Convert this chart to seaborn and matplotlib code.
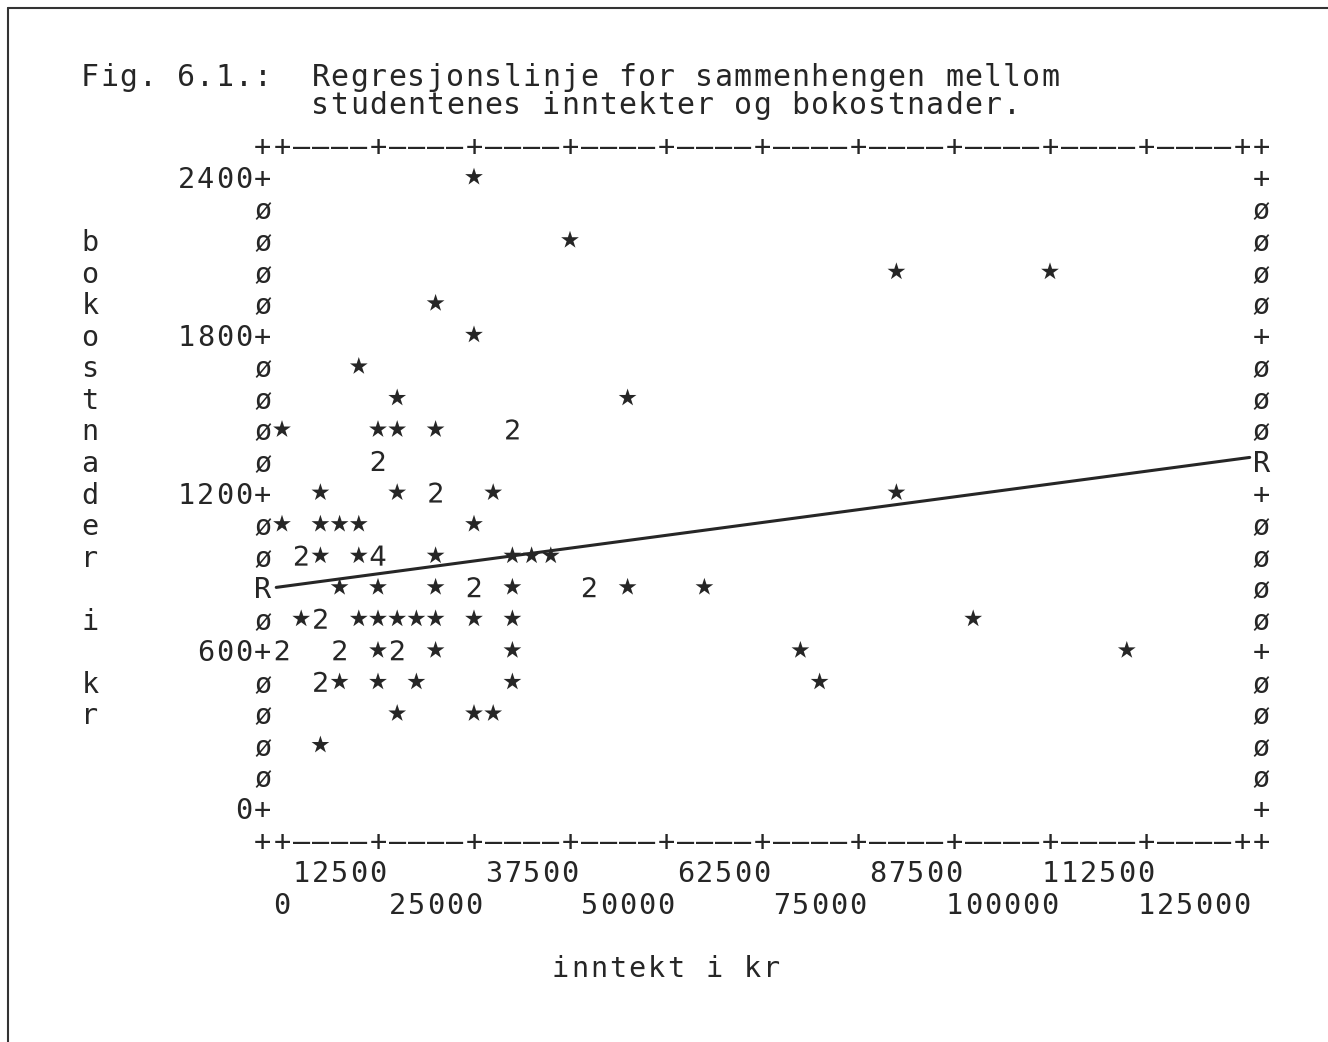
import numpy as np
import pandas as pd
import matplotlib
matplotlib.use("Agg")
import matplotlib.pyplot as plt
import seaborn as sns
from matplotlib.lines import Line2D

# values (one column = 2500 kr, one row = 120 kr)
inntekt = [25000,
           37500,
           80000, 100000,
           20000,
           25000,
           10000,
           15000, 45000,
           0, 12500, 15000, 20000, 30000,
           12500,
           5000, 15000, 20000, 27500, 80000,
           0, 5000, 7500, 10000, 25000,
           2500, 5000, 10000, 12500, 20000, 30000, 32500, 35000,
           7500, 12500, 20000, 25000, 30000, 40000, 45000, 55000,
           2500, 5000, 10000, 12500, 15000, 17500, 20000, 25000, 30000, 90000,
           0, 7500, 12500, 15000, 20000, 30000, 67500, 110000,
           5000, 7500, 12500, 17500, 30000, 70000,
           15000, 25000, 27500,
           5000]
bokost = ([2400] + [2160] + [2040] * 2 + [1920] + [1800] + [1680] + [1560] * 2
          + [1440] * 5 + [1320] + [1200] * 5 + [1080] * 5 + [960] * 8
          + [840] * 8 + [720] * 10 + [600] * 8 + [480] * 6 + [360] * 3 + [240])
antall = ([1] * 9
          + [1, 1, 1, 1, 2]
          + [2]
          + [1, 1, 2, 1, 1]
          + [1] * 5
          + [2, 1, 1, 4, 1, 1, 1, 1]
          + [1, 1, 1, 2, 1, 2, 1, 1]
          + [1, 2, 1, 1, 1, 1, 1, 1, 1, 1]
          + [2, 2, 1, 2, 1, 1, 1, 1]
          + [2, 1, 1, 1, 1, 1]
          + [1, 1, 1]
          + [1])

y_ticks = [0, 600, 1200, 1800, 2400]
x_ticks_row1 = [12500, 37500, 62500, 87500, 112500]
x_ticks_row2 = [0, 25000, 50000, 75000, 100000, 125000]

# regression line (bokostnader = a + b * inntekt)
reg_a = 842
reg_b = 0.0039

title1 = "Fig. 6.1.:  Regresjonslinje for sammenhengen mellom"
title2 = "studentenes inntekter og bokostnader."
xlab = "inntekt i kr"
ylab = "bokostnader i kr"

df = pd.DataFrame({"inntekt": inntekt, "bokost": bokost, "antall": antall})

# character grid of the printout
W, H = 1328, 1042
CW, RH = 2500, 120
COL_PX, ROW_PX = 19.2, 31.55
X0_PX, Y0_PX = 282, 808
ink = "#262626"

sns.set_style("white")
plt.rcParams["font.family"] = ["DejaVu Sans Mono", "DejaVu Sans"]
plt.rcParams["mathtext.fontset"] = "dejavusans"

fig = plt.figure(figsize=(W / 100, H / 100), dpi=100)
ax = fig.add_axes([0, 0, 1, 1])
ax.set_xlim(-X0_PX / COL_PX * CW, (W - X0_PX) / COL_PX * CW)
ax.set_ylim(-(H - Y0_PX) / ROW_PX * RH, Y0_PX / ROW_PX * RH)
ax.axis("off")


def put(col, y, s, size=20.5):
    # one glyph per printer column, starting at column col
    for i, ch in enumerate(s):
        if ch != " ":
            ax.text((col + i) * CW, y, ch, ha="center", va="center_baseline",
                    color=ink, fontsize=size)


left_col = -1
right_col = 51
top_row = 2400 + RH
bot_row = -RH

# regression line between the two R marks
r_left = round((reg_a + reg_b * left_col * CW) / RH) * RH
r_right = round((reg_a + reg_b * right_col * CW) / RH) * RH
xs = np.array([(left_col + 0.7) * CW, (right_col - 0.6) * CW])
ax.plot(xs, reg_a + reg_b * xs, color=ink, lw=2.2, zorder=2)

# points: stars, digits where several cases coincide
sns.scatterplot(data=df, x="inntekt", y="bokost", style="antall", size="antall",
                markers={1: "*", 2: "$2$", 4: "$4$"},
                sizes={1: 180, 2: 210, 4: 210},
                color=ink, linewidth=0, legend=False, ax=ax, zorder=3)

# frame
border = "++" + "––––+" * 9 + "––––++"
for r in (top_row, bot_row):
    put(left_col, r, border)
for r in range(0, 2400 + RH, RH):
    lc = "+" if r % 600 == 0 else "ø"
    rc = lc
    if r == r_left:
        lc = "R"
    if r == r_right:
        rc = "R"
    put(left_col, r, lc)
    put(right_col, r, rc)

# tick labels
for v in y_ticks:
    put(left_col - len(str(v)), v, str(v))
for v in x_ticks_row1:
    put(v // CW - len(str(v)) + 1, -2 * RH, str(v))
for v in x_ticks_row2:
    put(v // CW - len(str(v)) + 1, -3 * RH, str(v))

# axis titles
put(14.5, -5 * RH, xlab)
for i, ch in enumerate(ylab):
    put(-10, 2160 - i * RH, ch)

# figure title
put(-10, 2790, title1, size=21.5)
put(2, 2683, title2, size=21.5)

# outer box of the scanned page
fig.add_artist(Line2D([8 / W, 8 / W], [0, 1 - 8 / H], color="#333333", lw=1.5))
fig.add_artist(Line2D([8 / W, 1], [1 - 8 / H, 1 - 8 / H], color="#333333", lw=1.5))

fig.savefig("out.png", dpi=100, facecolor="white")
